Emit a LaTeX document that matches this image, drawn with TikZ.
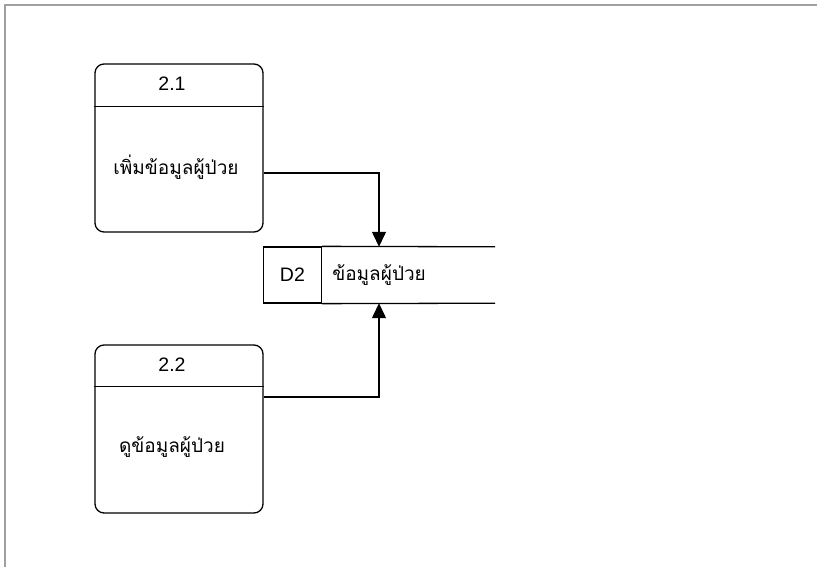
\documentclass[tikz,border=0pt]{standalone}
\usepackage{fontspec}
\setmainfont{Liberation Sans}
\newfontfamily\thaifont[Script=Thai]{Loma}
\usetikzlibrary{arrows.meta}
\definecolor{framegray}{HTML}{A0A0A0}
\begin{document}
\begin{tikzpicture}[x=1pt,y=-1pt,
  every node/.style={font=\fontsize{19.5}{22}\selectfont, text=black},
  thai/.style={font=\fontsize{19}{22}\selectfont\thaifont},
  procbox/.style={draw, line width=1.3pt, rounded corners=9pt, minimum width=168pt, minimum height=168pt, inner sep=0pt},
  label/.style={inner sep=0pt},
  storebox/.style={minimum width=232pt, minimum height=56pt, inner sep=0pt},
  storeid/.style={draw, line width=1.3pt, minimum width=58pt, minimum height=56pt, inner sep=0pt},
  flow/.style={line width=1.3pt, -{Triangle[width=14pt,length=15pt]}},
  edge/.style={line width=1.3pt}]
\useasboundingbox (0,0) rectangle (817,567);
\draw[framegray, line width=2pt] (5,567) -- (5,5) -- (817,5);

% process 2.1
\node[procbox] (p1) at (179,148) {};
\draw[edge] ([yshift=-43pt]p1.north west) -- ([yshift=-43pt]p1.north east);
\node[label] (p1n) at (172,84) {2.1};
\node[label, thai] (p1t) at (176,167) {เพิ่มข้อมูลผู้ป่วย};

% process 2.2
\node[procbox] (p2) at (179,429) {};
\draw[edge] ([yshift=-42pt]p2.north west) -- ([yshift=-42pt]p2.north east);
\node[label] (p2n) at (172,365) {2.2};
\node[label, thai] (p2t) at (172,447) {ดูข้อมูลผู้ป่วย};

% data store D2
\node[storebox] (d2) at (379,275) {};
\node[storeid, anchor=west] (d2id) at (d2.west) {D2};
\draw[edge] (d2id.north east) -- (d2.north east);
\draw[edge] (d2id.south east) -- (d2.south east);
\node[label, thai, anchor=west] (d2t) at ([xshift=10pt]d2id.east) {ข้อมูลผู้ป่วย};

% flows
\draw[flow] ([yshift=-25pt]p1.east) -| (d2.north);
\draw[flow] ([yshift=32pt]p2.east) -| (d2.south);
\end{tikzpicture}
\end{document}
